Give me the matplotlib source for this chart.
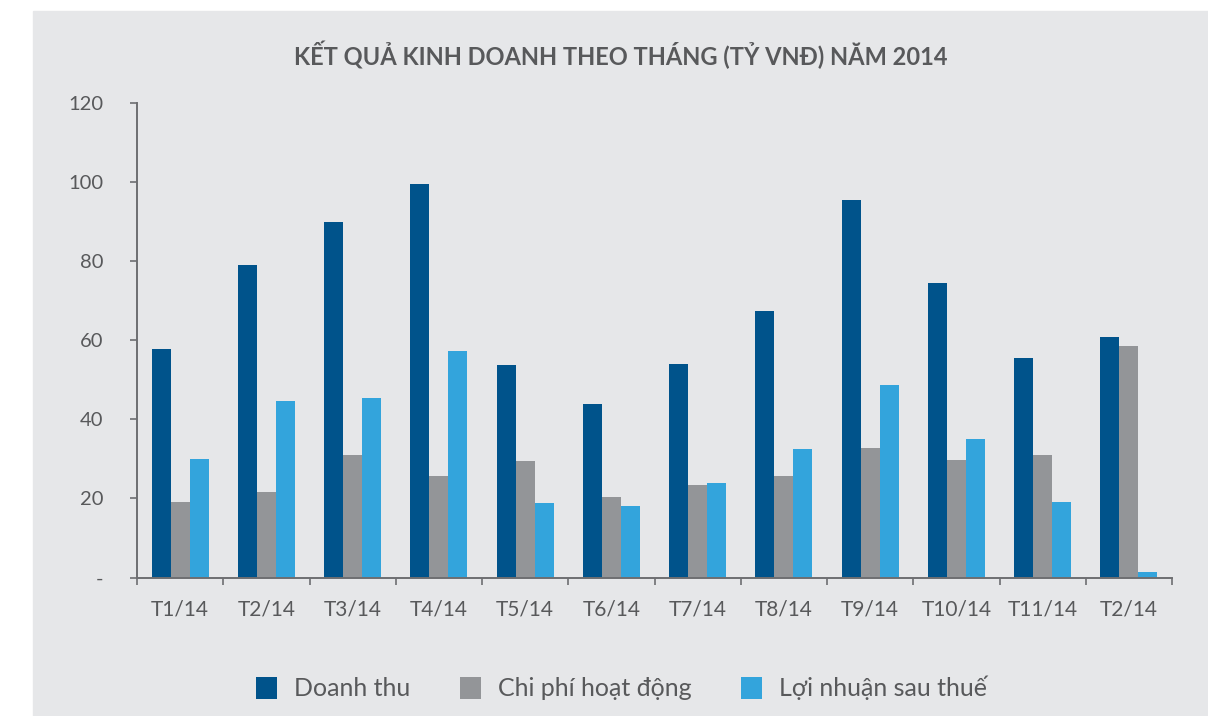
import numpy as np
import matplotlib
matplotlib.use("Agg")
import matplotlib.pyplot as plt
from matplotlib.patches import Rectangle

plt.rcParams['font.family'] = ['Lato', 'Noto Sans', 'DejaVu Sans']

# --- Số liệu ---
months = ["T1/14", "T2/14", "T3/14", "T4/14", "T5/14", "T6/14",
          "T7/14", "T8/14", "T9/14", "T10/14", "T11/14", "T2/14"]
doanh_thu = [57.8, 79.0, 89.8, 99.4, 53.7, 43.8, 54.0, 67.4, 95.4, 74.6, 55.6, 60.7]
chi_phi = [19.1, 21.6, 31.1, 25.6, 29.4, 20.3, 23.3, 25.6, 32.8, 29.6, 31.1, 58.5]
loi_nhuan = [29.9, 44.6, 45.4, 57.2, 18.9, 18.1, 23.8, 32.5, 48.7, 35.0, 19.1, 1.3]
series_names = ["Doanh thu", "Chi phí hoạt động", "Lợi nhuận sau thuế"]
y_ticks = [0, 20, 40, 60, 80, 100, 120]
y_tick_labels = ["-", "20", "40", "60", "80", "100", "120"]

COLORS = ["#00538b", "#939598", "#33a4dc"]
BG = "#e6e7e9"
TXT = "#58595b"
AXIS = "#6d6e71"

W, H = 1208, 716
fig = plt.figure(figsize=(W / 100, H / 100), dpi=100, facecolor="white")
# nền xám của khung biểu đồ
fig.patches.append(Rectangle((33 / W, 0), 1 - 33 / W, 1 - 11 / H,
                             transform=fig.transFigure, color=BG, zorder=-10))

ax = fig.add_axes([137 / W, 1 - 577.5 / H, (1172 - 137) / W, (577.5 - 103) / H])
ax.set_facecolor("none")

x = np.arange(len(months))
bw = 0.22
for i, (vals, name) in enumerate(zip([doanh_thu, chi_phi, loi_nhuan], series_names)):
    ax.bar(x + (i - 1) * bw, vals, width=bw, color=COLORS[i], label=name,
           edgecolor="none", zorder=2)

ax.set_xlim(-0.5, len(months) - 0.5)
ax.set_ylim(0, 120)

for s in ["top", "right"]:
    ax.spines[s].set_visible(False)
for s in ["left", "bottom"]:
    ax.spines[s].set_color(AXIS)
    ax.spines[s].set_linewidth(1.4)
    ax.spines[s].set_zorder(3)

ax.set_yticks(y_ticks)
ax.set_yticklabels(y_tick_labels)
ax.tick_params(axis="y", length=5, width=1.2, color=AXIS, pad=19,
               labelsize=14.5, labelcolor=TXT)

ax.set_xticks(np.arange(-0.5, len(months), 1))
ax.set_xticklabels([])
ax.set_xticks(x, minor=True)
ax.set_xticklabels(months, minor=True)
ax.tick_params(axis="x", which="major", length=5, width=1.2, color=AXIS)
ax.tick_params(axis="x", which="minor", length=0, pad=16,
               labelsize=15, labelcolor=TXT)

fig.text(621 / W, 1 - 55 / H, "KẾT QUẢ KINH DOANH THEO THÁNG (TỶ VNĐ) NĂM 2014",
         ha="center", va="center", fontsize=17, fontweight="bold", color=TXT)

leg = fig.legend(loc="center", bbox_to_anchor=(621.5 / W, 1 - 688 / H), ncol=3,
                 frameon=False, fontsize=18, handlelength=0.84, handleheight=1.0,
                 handletextpad=0.68, columnspacing=2.0, labelcolor=TXT)

fig.savefig("out.png", dpi=100, facecolor="white")
